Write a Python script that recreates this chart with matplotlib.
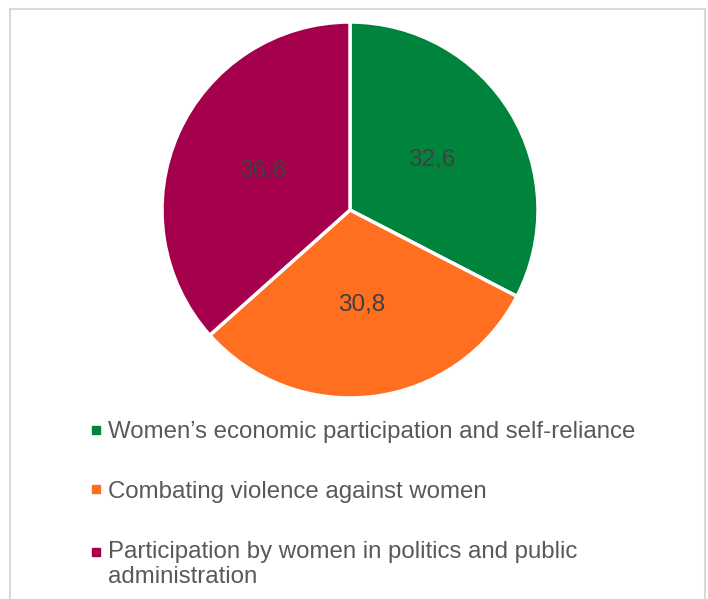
import matplotlib
matplotlib.use("Agg")
import matplotlib.pyplot as plt
from matplotlib.patches import Rectangle
from matplotlib.lines import Line2D
from matplotlib.legend_handler import HandlerLine2D

categories = [
    "Women\u2019s economic participation and self-reliance",
    "Combating violence against women",
    "Participation by women in politics and public\nadministration",
]
values = [32.6, 30.8, 36.6]
colors = ["#00843D", "#FF6F1F", "#A5004C"]

plt.rcParams['font.family'] = ['Liberation Sans', 'DejaVu Sans']

W, H = 708, 599
fig = plt.figure(figsize=(W / 100, H / 100), dpi=100)

# chart border
fig.patches.append(Rectangle((10 / W, -0.05), 695 / W, 1.05 - 9 / H,
                             transform=fig.transFigure, fill=False,
                             edgecolor="#D9D9D9", linewidth=1.5))

cx, cy, r = 350, 210, 188
ax = fig.add_axes([(cx - r) / W, (H - cy - r) / H, 2 * r / W, 2 * r / H])
wedges, texts, autotexts = ax.pie(
    values, colors=colors, startangle=90, counterclock=False,
    autopct=lambda p: f"{p:.1f}".replace(".", ","), pctdistance=0.51,
    wedgeprops=dict(edgecolor="white", linewidth=2.5),
    textprops=dict(color="#404040", fontsize=17.5))
ax.set_xlim(-1, 1)
ax.set_ylim(-1, 1)
ax.set_aspect("equal")
ax.axis("off")


class ShiftHandler(HandlerLine2D):
    def __init__(self, dy=0, **kw):
        super().__init__(**kw)
        self.dy = dy

    def create_artists(self, legend, orig_handle, xdescent, ydescent,
                       width, height, fontsize, trans):
        return super().create_artists(legend, orig_handle, xdescent,
                                      ydescent - self.dy, width, height,
                                      fontsize, trans)


handles = [Line2D([0], [0], marker="s", linestyle="none", markersize=6,
                  markerfacecolor=c, markeredgecolor=c) for c in colors]
handler_map = {h: ShiftHandler(dy=(18 if "\n" in lab else 0))
               for h, lab in zip(handles, categories)}
leg = fig.legend(handles, categories, loc="upper left",
                 bbox_to_anchor=(78 / W, 1 - 409 / H), frameon=False,
                 fontsize=17.25, labelcolor="#595959", handlelength=0.5,
                 handletextpad=0.25, labelspacing=1.58, borderpad=0,
                 handler_map=handler_map)

fig.savefig("out.png", dpi=100)
